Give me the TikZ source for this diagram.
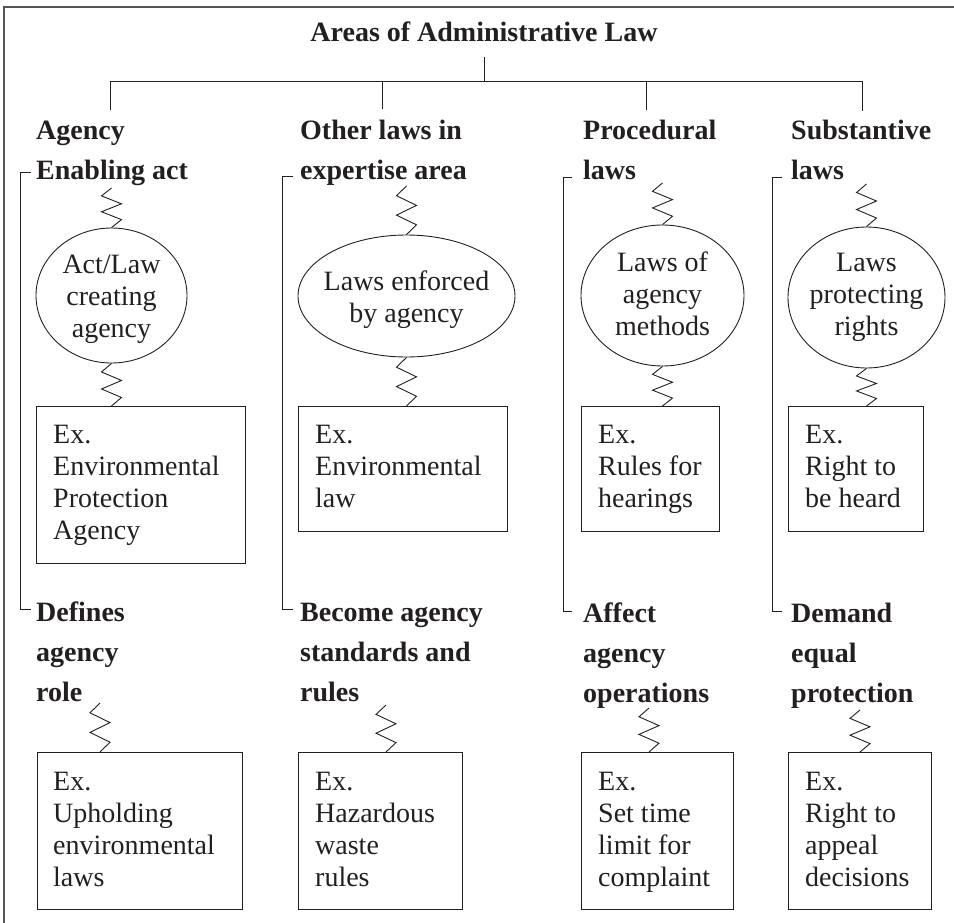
\documentclass[tikz,border=0pt]{standalone}
\usepackage{fontspec}
\setmainfont{Liberation Serif}
\usetikzlibrary{shapes.geometric,calc}
\definecolor{ink}{HTML}{231F20}
\definecolor{frame}{HTML}{555555}
% zigzag spring between two points: alternating vertices left/right
\newcommand\zzspring[2]{%
  \draw[ln] (#1) -- ($(#1)!0.2!(#2)+(-10,0)$) -- ($(#1)!0.4!(#2)+(10,0)$)
    -- ($(#1)!0.6!(#2)+(-10,0)$) -- ($(#1)!0.8!(#2)+(10,0)$) -- (#2);}
\begin{document}
\begin{tikzpicture}[x=1pt,y=-1pt,
  ln/.style={line width=0.9pt, draw=ink},
  head/.style={font=\fontsize{28}{40}\selectfont\bfseries, text=ink, anchor=base west, align=left, inner sep=0pt},
  body/.style={font=\fontsize{28}{32}\selectfont, text=ink, anchor=base west, align=left, inner sep=0pt},
  ovaltext/.style={font=\fontsize{28}{32}\selectfont, text=ink, anchor=base, align=center, inner sep=0pt},
  oval/.style={ellipse, draw=ink, line width=0.9pt, inner sep=0pt},
  exbox/.style={rectangle, draw=ink, line width=0.9pt, inner sep=0pt, anchor=north west}
]
\useasboundingbox (0,0) rectangle (954,923);
% frame
\coordinate (fr1) at (954,7);
\coordinate (fr2) at (4,7);
\coordinate (fr3) at (4,923);
\draw[draw=frame, line width=1.6pt] (fr1) -- (fr2) -- (fr3);

% title and tree (multi-line node base = last line baseline)
\node[font=\fontsize{28}{32}\selectfont\bfseries, text=ink, anchor=base, inner sep=0pt] (title) at (484,42) {Areas of Administrative Law};
\coordinate (tt) at (484,57);
\coordinate (tj) at (484,81);
\coordinate (d1) at (110,110);
\coordinate (d2) at (382,109);
\coordinate (d3) at (646,110);
\coordinate (d4) at (862,111);
\draw[ln] (tt) -- (tj);
\draw[ln] (d1) -- (d1 |- tj) -- (d4 |- tj) -- (d4);
\draw[ln] (d2) -- (d2 |- tj);
\draw[ln] (d3) -- (d3 |- tj);

% upper headings
\node[head] (H1) at (36,180) {Agency\\Enabling act};
\node[head] (H2) at (300,180) {Other laws in\\expertise area};
\node[head] (H3) at (583,180) {Procedural\\laws};
\node[head] (H4) at (791,180) {Substantive\\laws};

% lower headings
\node[head] (L1) at (36,701) {Defines\\agency\\role};
\node[head] (L2) at (300,701) {Become agency\\standards and\\rules};
\node[head] (L3) at (583,702) {Affect\\agency\\operations};
\node[head] (L4) at (791,702) {Demand\\equal\\protection};

% brackets
\coordinate (bt1) at (31,172); \coordinate (bb1) at (31,609);
\coordinate (bt2) at (293,176); \coordinate (bb2) at (293,609);
\coordinate (bt3) at (572,177); \coordinate (bb3) at (572,611);
\coordinate (bt4) at (782,177); \coordinate (bb4) at (782,611);
\draw[ln] (bt1) -- ++(-11,0) |- (bb1);
\draw[ln] (bt2) -- ++(-11,0) |- (bb2);
\draw[ln] (bt3) -- ++(-9,0) |- (bb3);
\draw[ln] (bt4) -- ++(-10,0) |- (bb4);

% ellipses
\node[oval, minimum width=151pt, minimum height=135pt] (E1) at (111.5,295.5) {};
\node[oval, minimum width=217pt, minimum height=122pt] (E2) at (406.5,296) {};
\node[oval, minimum width=163pt, minimum height=141pt] (E3) at (662.5,295.5) {};
\node[oval, minimum width=157pt, minimum height=141pt] (E4) at (866.5,297.5) {};
\node[ovaltext] (ET1) at (111.5,337) {Act/Law\\creating\\agency};
\node[ovaltext] (ET2) at (406.5,322) {Laws enforced\\by agency};
\node[ovaltext] (ET3) at (662.5,335) {Laws of\\agency\\methods};
\node[ovaltext] (ET4) at (866.5,335) {Laws\\protecting\\rights};

% upper boxes
\node[exbox, minimum width=209pt, minimum height=157pt] (B1) at (36,406) {};
\node[exbox, minimum width=209pt, minimum height=125pt] (B2) at (298,406) {};
\node[exbox, minimum width=138pt, minimum height=125pt] (B3) at (581,406) {};
\node[exbox, minimum width=135pt, minimum height=125pt] (B4) at (788,406) {};
\node[body] (T1) at (53,539) {Ex.\\Environmental\\Protection\\Agency};
\node[body] (T2) at (315,507) {Ex.\\Environmental\\law};
\node[body] (T3) at (598,507) {Ex.\\Rules for\\hearings};
\node[body] (T4) at (805,507) {Ex.\\Right to\\be heard};

% lower boxes
\node[exbox, minimum width=205pt, minimum height=157pt] (C1) at (37,752) {};
\node[exbox, minimum width=164pt, minimum height=157pt] (C2) at (298,752) {};
\node[exbox, minimum width=152pt, minimum height=157pt] (C3) at (581,752) {};
\node[exbox, minimum width=143pt, minimum height=157pt] (C4) at (788,752) {};
\node[body] (U1) at (53,886) {Ex.\\Upholding\\environmental\\laws};
\node[body] (U2) at (315,886) {Ex.\\Hazardous\\waste\\rules};
\node[body] (U3) at (598,886) {Ex.\\Set time\\limit for\\complaint};
\node[body] (U4) at (805,886) {Ex.\\Right to\\appeal\\decisions};

% springs: heading -> ellipse
\coordinate (s1) at (111.5,188);
\coordinate (s2) at (406.5,186);
\coordinate (s3) at (662.5,183);
\coordinate (s4) at (866.5,184);
\zzspring{s1}{E1.north}
\zzspring{s2}{E2.north}
\zzspring{s3}{E3.north}
\zzspring{s4}{E4.north}
% springs: ellipse -> box
\coordinate (m1) at (E1.south |- B1.north);
\coordinate (m2) at (E2.south |- B2.north);
\coordinate (m3) at (E3.south |- B3.north);
\coordinate (m4) at (E4.south |- B4.north);
\zzspring{E1.south}{m1}
\zzspring{E2.south}{m2}
\zzspring{E3.south}{m3}
\zzspring{E4.south}{m4}
% springs: lower heading -> box
\coordinate (ls1) at (100,703);
\coordinate (ls2) at (386,705);
\coordinate (ls3) at (649,708);
\coordinate (ls4) at (860,710);
\coordinate (lb1) at (ls1 |- C1.north);
\coordinate (lb2) at (ls2 |- C2.north);
\coordinate (lb3) at (ls3 |- C3.north);
\coordinate (lb4) at (ls4 |- C4.north);
\zzspring{ls1}{lb1}
\zzspring{ls2}{lb2}
\zzspring{ls3}{lb3}
\zzspring{ls4}{lb4}
\end{tikzpicture}
\end{document}
